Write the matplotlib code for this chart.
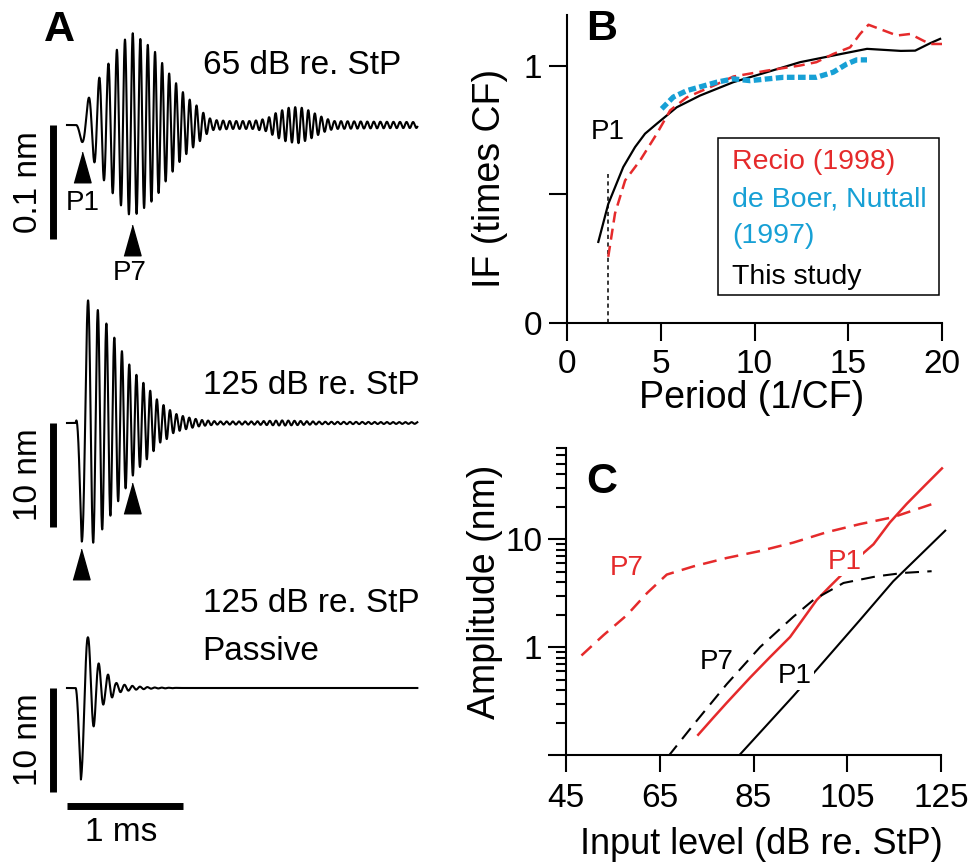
import numpy as np
import matplotlib
matplotlib.use("Agg")
import matplotlib.pyplot as plt
from matplotlib.patches import Rectangle
from matplotlib.ticker import FixedLocator, NullFormatter, LogLocator

W, H = 974, 865

plt.rcParams['font.family'] = ['Liberation Sans', 'DejaVu Sans']
plt.rcParams['lines.scale_dashes'] = False

RED = '#e52a2b'
BLUE = '#17a0d5'

# ---------------- panel A: envelopes (t in ms, amplitude in nm)
trace_titles = ['65 dB re. StP', '125 dB re. StP', '125 dB re. StP']
env1_t = [0.0, 0.075, 0.127, 0.18, 0.227, 0.30, 0.365, 0.43, 0.50, 0.56, 0.625, 0.70,
          0.77, 0.84, 0.91, 0.98, 1.06, 1.13, 1.19, 1.25, 1.40, 1.60, 1.72, 1.80,
          1.90, 2.00, 2.08, 2.15, 2.22, 2.30, 2.60, 3.02]
env1_a = [0.0, 0.0, 0.0146, 0.0225, 0.031, 0.046, 0.055, 0.066, 0.075, 0.081, 0.076, 0.070,
          0.063, 0.051, 0.041, 0.031, 0.022, 0.016, 0.009, 0.0045, 0.0035, 0.0035, 0.0055, 0.0105,
          0.015, 0.016, 0.013, 0.0095, 0.006, 0.0035, 0.003, 0.0026]
env2_t = [0.0, 0.075, 0.127, 0.18, 0.227, 0.30, 0.37, 0.437, 0.50, 0.557, 0.623, 0.68,
          0.74, 0.80, 0.855, 0.91, 0.97, 1.06, 1.15, 1.30, 1.60, 1.86, 2.20, 3.02]
env2_a = [0.0, 0.0, 11.4, 11.8, 11.5, 10.3, 9.0, 7.6, 6.4, 5.2, 4.3, 3.6,
          2.8, 1.9, 1.6, 1.0, 0.75, 0.5, 0.3, 0.15, 0.15, 0.25, 0.12, 0.08]
env3_t = [0.0, 0.075, 0.12, 0.18, 0.23, 0.265, 0.29, 0.33, 0.36, 0.42, 0.50, 0.60, 0.75, 1.0, 3.02]
env3_a = [0.0, 0.0, 8.8, 4.9, 3.7, 2.5, 2.1, 1.25, 1.3, 0.5, 0.3, 0.15, 0.05, 0.0, 0.0]
cf_khz = [16.0, 17.0, 16.0]
first_trough_ms = [0.127, 0.127, 0.12]

# ---------------- panel B: instantaneous frequency
study_period = [1.67, 2.2, 3.0, 3.63, 4.16, 4.79, 5.85, 7.1, 8.87, 10.66, 12.43, 14.2,
                16.0, 17.8, 18.57, 19.37, 19.9]
study_if = [0.315, 0.463, 0.607, 0.685, 0.737, 0.776, 0.84, 0.886, 0.938, 0.977, 1.016, 1.042,
            1.068, 1.06, 1.061, 1.09, 1.107]
recio_period = [2.2, 2.56, 3.1, 3.9, 4.79, 5.5, 6.39, 7.99, 8.87, 10.66, 12.43, 13.3, 14.2,
                15.1, 15.63, 16.08, 16.7, 17.6, 18.3, 19.0, 19.37, 20.0]
recio_if = [0.257, 0.426, 0.555, 0.633, 0.737, 0.828, 0.879, 0.93, 0.96, 0.983, 1.003, 1.016,
            1.048, 1.074, 1.126, 1.162, 1.145, 1.12, 1.126, 1.1, 1.087, 1.087]
deboer_period = [5.05, 5.67, 6.39, 7.99, 8.87, 9.76, 11.54, 13.3, 14.2, 14.92, 15.45, 16.0]
deboer_if = [0.834, 0.88, 0.905, 0.938, 0.951, 0.944, 0.957, 0.957, 0.977, 1.009, 1.025, 1.025]
p1_period = 2.17
p1_if_top = 0.58

# ---------------- panel C: input-output functions
lev_recio_p7 = [48.3, 53.0, 58.0, 62.3, 66.5, 72.2, 79.3, 86.4, 93.5, 100.6, 107.7, 114.8, 123.3]
amp_recio_p7 = [0.836, 1.29, 1.98, 3.17, 4.7, 5.6, 6.7, 7.77, 9.3, 11.6, 13.8, 16.0, 21.3]
lev_recio_p1 = [73.2, 76.4, 79.3, 84.3, 88.5, 92.8, 94.9, 98.5, 101.3, 104.2, 107.7, 110.6,
                114.1, 117.7, 121.6, 125.2]
amp_recio_p1 = [0.154, 0.221, 0.305, 0.523, 0.806, 1.24, 1.66, 2.74, 3.65, 4.87, 6.97, 8.98,
                14.3, 21.3, 31.6, 45.3]
lev_study_p7 = [66.8, 72.2, 79.3, 86.4, 93.5, 97.8, 104.2, 111.3, 117.0, 123.0]
amp_study_p7 = [0.097, 0.191, 0.454, 1.0, 1.91, 2.74, 3.93, 4.53, 4.87, 5.05]
lev_study_p1 = [82.1, 93.5, 98.8, 107.7, 114.8, 125.9]
amp_study_p1 = [0.101, 0.352, 0.641, 1.78, 4.07, 12.0]

fig = plt.figure(figsize=(W / 100, H / 100), dpi=100)


def px_axes(left, top, right, bottom):
    return fig.add_axes([left / W, 1 - bottom / H, (right - left) / W, (bottom - top) / H])


def fig_xy(x, y):
    return x / W, 1 - y / H


def waveform(t, env_t, env_a, cf, t_trough):
    # phase follows the IF glide of panel B
    inst = np.interp(t * cf, study_period, study_if) * cf
    phi = np.concatenate([[0], np.cumsum(0.5 * (inst[1:] + inst[:-1]) * np.diff(t))])
    phi += 0.25 - np.interp(t_trough, t, phi)
    env = np.interp(t, env_t, env_a)
    return -env * np.sin(2 * np.pi * phi)


# trace axes: x px = 67 + 116 * t, baseline px and px per nm
trace_layout = [(0, 300, 125, 1140.0), (290, 580, 423, 10.4), (580, 865, 688, 10.4)]
envs = [(env1_t, env1_a), (env2_t, env2_a), (env3_t, env3_a)]
bar_len = [0.1, 10, 10]
bar_txt = ['0.1 nm', '10 nm', '10 nm']
t = np.linspace(0, 3.02, 30000)
tri = [(-0.28, -0.5), (0.28, -0.5), (0.0, 0.5)]
trace_axes = []
for i, (top, bottom, base, k) in enumerate(trace_layout):
    ax = px_axes(0, top, 440, bottom)
    ax.set_xlim(-67 / 116, (440 - 67) / 116)
    ax.set_ylim((base - bottom) / k, (base - top) / k)
    ax.axis('off')
    y = waveform(t, envs[i][0], envs[i][1], cf_khz[i], first_trough_ms[i])
    ax.plot(t, y, color='black', lw=1.5)
    # vertical scale bar
    ax.plot([-0.121, -0.121], [0, -bar_len[i]], color='black', lw=5, solid_capstyle='butt')
    ax.text(-0.33, -bar_len[i] / 2, bar_txt[i], rotation=90, ha='center', va='center',
            fontsize=24)
    ax.text(1.17, (base - [65, 385, 604][i]) / k, trace_titles[i], ha='left', va='center',
            fontsize=24)
    trace_axes.append(ax)

ax1, ax2, ax3 = trace_axes
ax1.plot([0.129, 0.56], [-0.0368, -0.1009], ls='none', marker=tri, ms=22, color='black',
         clip_on=False)
ax1.text(0.138, -0.0684, 'P1', ha='center', va='center', fontsize=20)
ax1.text(0.543, -0.13, 'P7', ha='center', va='center', fontsize=20)
ax2.plot([0.56, 0.12], [-7.2, -13.56], ls='none', marker=tri, ms=22, color='black',
         clip_on=False)
ax3.text(1.17, (688 - 651) / 10.4, 'Passive', ha='left', va='center', fontsize=24)
# time scale bar
ax3.plot([0, 1], [-11.35, -11.35], color='black', lw=5, solid_capstyle='butt')
ax3.text(0.466, -13.94, '1 ms', ha='center', va='center', fontsize=24)

# ---------------- panel B
axb = px_axes(567, 15, 942, 322.7)
axb.plot(study_period, study_if, color='black', lw=1.6, clip_on=False, zorder=3)
axb.plot(recio_period, recio_if, color=RED, lw=1.8, dashes=(8, 4.5), clip_on=False, zorder=4)
axb.plot(deboer_period, deboer_if, color=BLUE, lw=3.8, dashes=(5.5, 2.5), zorder=5)
axb.plot([p1_period, p1_period], [0, p1_if_top], color='black', lw=1.1, dashes=(3, 2.5))
axb.text(p1_period, 0.743, 'P1', ha='center', va='center', fontsize=20)
axb.set_xlim(0, 20)
axb.set_ylim(0, 1.2)
axb.set_xticks([0, 5, 10, 15, 20])
axb.set_yticks([0, 0.5, 1])
axb.set_yticklabels(['0', '', '1'])
axb.tick_params(axis='x', length=13, width=1.5, labelsize=24, pad=6)
axb.tick_params(axis='y', length=13, width=1.5, labelsize=24, pad=5)
for s in ['top', 'right']:
    axb.spines[s].set_visible(False)
for s in ['left', 'bottom']:
    axb.spines[s].set_linewidth(1.5)
axb.set_xlabel('Period (1/CF)', fontsize=27, va='center')
axb.xaxis.set_label_coords(*fig_xy(752, 398), transform=fig.transFigure)
axb.set_ylabel('IF (times CF)', fontsize=27, va='center')
axb.yaxis.set_label_coords(*fig_xy(490, 178), transform=fig.transFigure)

# legend box of panel B
fig.add_artist(Rectangle(fig_xy(718, 295), (939 - 718) / W, (295 - 138) / H,
                         transform=fig.transFigure, fill=False, lw=1.1, ec='black'))
for txt, yy, col in [('Recio (1998)', 162, RED), ('de Boer, Nuttall', 200, BLUE),
                     ('(1997)', 236, BLUE), ('This study', 277, 'black')]:
    fig.text(*fig_xy(732, yy), txt, color=col, fontsize=20.5, ha='left', va='center')

# ---------------- panel C
axc = px_axes(566, 448, 941, 755)
axc.set_yscale('log')
axc.plot(lev_recio_p7, amp_recio_p7, color=RED, lw=1.8, dashes=(10, 6))
axc.plot(lev_recio_p1, amp_recio_p1, color=RED, lw=1.8, clip_on=False)
axc.plot(lev_study_p7, amp_study_p7, color='black', lw=1.5, dashes=(10, 6))
axc.plot(lev_study_p1, amp_study_p1, color='black', lw=1.5, clip_on=False)
box = dict(facecolor='white', edgecolor='none', pad=1)
axc.text(58.0, 5.4, 'P7', color=RED, ha='center', va='center', fontsize=20)
axc.text(104.5, 6.2, 'P1', color=RED, ha='center', va='center', fontsize=20, bbox=box)
axc.text(77.2, 0.73, 'P7', color='black', ha='center', va='center', fontsize=20)
axc.text(93.9, 0.54, 'P1', color='black', ha='center', va='center', fontsize=20, bbox=box,
         zorder=5)
axc.set_xlim(45, 125)
axc.set_ylim(0.1, 70)
axc.set_xticks([45, 65, 85, 105, 125])
axc.yaxis.set_major_locator(FixedLocator([0.1, 1, 10]))
axc.set_yticklabels(['', '1', '10'])
axc.yaxis.set_minor_locator(LogLocator(base=10, subs=np.arange(2, 10)))
axc.yaxis.set_minor_formatter(NullFormatter())
axc.tick_params(axis='x', length=12, width=1.5, labelsize=24, pad=8)
axc.tick_params(axis='y', which='major', length=13, width=1.5, labelsize=24, pad=4)
axc.tick_params(axis='y', which='minor', length=7, width=1.5)
for s in ['top', 'right']:
    axc.spines[s].set_visible(False)
for s in ['left', 'bottom']:
    axc.spines[s].set_linewidth(1.5)
axc.set_xlabel('Input level (dB re. StP)', fontsize=26, va='center')
axc.xaxis.set_label_coords(*fig_xy(761, 845), transform=fig.transFigure)
axc.set_ylabel('Amplitude (nm)', fontsize=27, va='center')
axc.yaxis.set_label_coords(*fig_xy(485, 592), transform=fig.transFigure)

# panel letters
for letter, (xx, yy) in zip('ABC', [(59, 30), (602, 29), (602, 482)]):
    fig.text(*fig_xy(xx, yy), letter, fontsize=31, fontweight='bold', ha='center', va='center')

fig.savefig('out.png', dpi=100)
